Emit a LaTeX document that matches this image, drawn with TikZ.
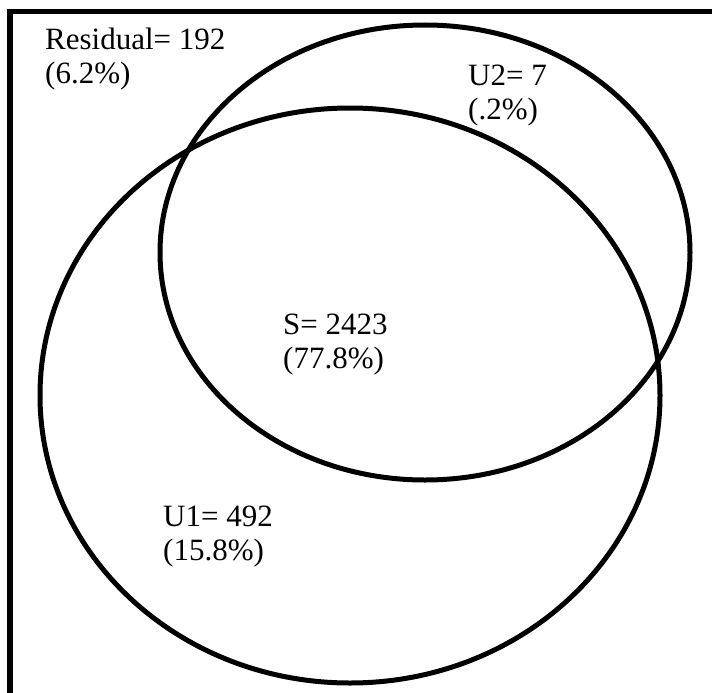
\documentclass[tikz,border=0pt]{standalone}
\usepackage{fontspec}
\setmainfont{Liberation Serif}
\begin{document}
\begin{tikzpicture}[x=1pt, y=-1pt, every node/.style={font=\fontsize{31}{34}\selectfont, align=left, anchor=base west, inner sep=0pt}, set/.style={line width=5pt}]
\useasboundingbox (0,0) rectangle (712,693);
% frame, cut at the right and bottom edge
\draw[line width=5.5pt] (10,693) -- (10,11.5) -- (712,11.5);
% the two sets
\draw[set] (350,395.5) ellipse [x radius=310, y radius=287.5];
\draw[set] (425,252.5) ellipse [x radius=265, y radius=227.5];
% counts (base = last line)
\node (res) at (45,83) {Residual= 192\\(6.2\%)};
\node (u2) at (468,119) {U2= 7\\(.2\%)};
\node (s) at (283,368) {S= 2423\\(77.8\%)};
\node (u1) at (163,560) {U1= 492\\(15.8\%)};
\end{tikzpicture}
\end{document}
